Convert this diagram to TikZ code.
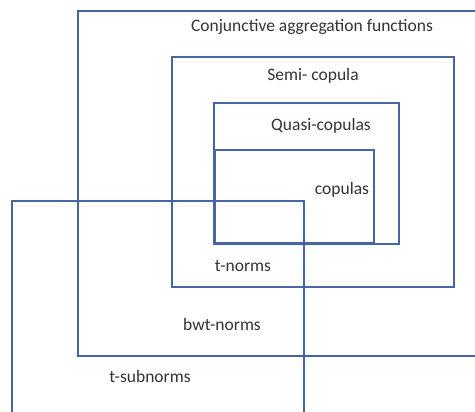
\documentclass[tikz,border=0pt]{standalone}
\usepackage{fontspec}
\setmainfont{Carlito}
\begin{document}
\begin{tikzpicture}[x=1pt,y=-1pt,
  setbox/.style={draw=boxblue,line width=1.4pt},
  lbl/.style={text=txtgray,font=\fontsize{17.5}{20}\selectfont,inner sep=0pt}]
\definecolor{boxblue}{HTML}{4565A5}
\definecolor{txtgray}{HTML}{333333}
\useasboundingbox (0,0) rectangle (475,412);
\begin{scope}
\clip (0,0) rectangle (475,412);
\draw[setbox] (78,11) rectangle (490,356);
\draw[setbox] (172,57) rectangle (454,287);
\draw[setbox] (214,103) rectangle (399,244);
\draw[setbox] (215,150) rectangle (374,243);
\draw[setbox] (12,201) rectangle (304,430);
\end{scope}
\node[lbl] (caf) at (312,27) {Conjunctive aggregation functions};
\node[lbl] (semi) at (313,76) {Semi- copula};
\node[lbl] (quasi) at (321,126) {Quasi-copulas};
\node[lbl] (cop) at (342,190) {copulas};
\node[lbl] (tn) at (243,266) {t-norms};
\node[lbl] (bwt) at (222,324) {bwt-norms};
\node[lbl] (tsub) at (150,376) {t-subnorms};
\end{tikzpicture}
\end{document}
